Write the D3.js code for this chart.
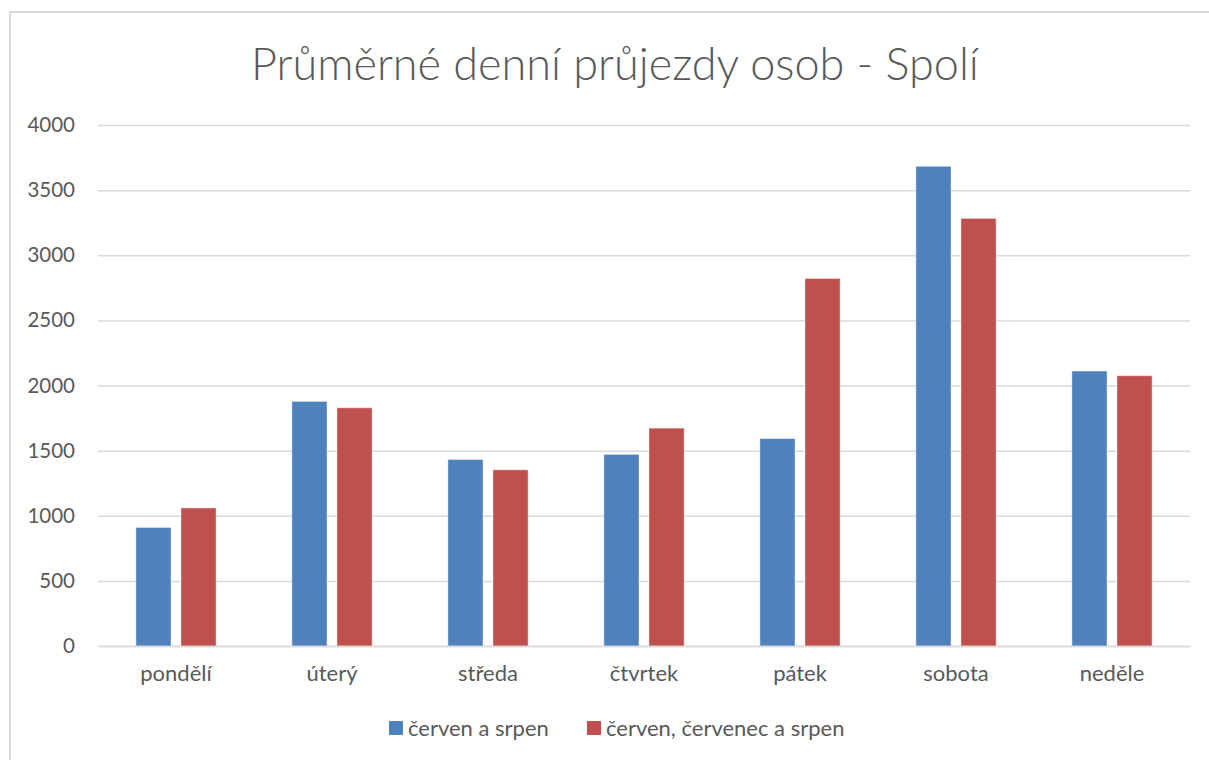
<!DOCTYPE html>
<html>
<head>
<meta charset="utf-8">
<script src="https://cdn.jsdelivr.net/npm/d3@7"></script>
<style>
  html, body { margin: 0; padding: 0; background: #fff; overflow: hidden; }
  svg { display: block; }
  text { font-family: Lato, "Open Sans", sans-serif; fill: #595959; }
</style>
</head>
<body>
<svg width="1209" height="760"></svg>
<script>
const days = ['pondělí', 'úterý', 'středa', 'čtvrtek', 'pátek', 'sobota', 'neděle'];
const seriesNames = ['červen a srpen', 'červen, červenec a srpen'];
const cervenSrpen = [910, 1878, 1432, 1471, 1593, 3683, 2111];
const cervenCervenecSrpen = [1060, 1829, 1353, 1673, 2822, 3283, 2075];
const yTicks = [0, 500, 1000, 1500, 2000, 2500, 3000, 3500, 4000];
const colors = ['#4F81BD', '#C0504D'];

const svg = d3.select('svg');
const width = +svg.attr('width');
const height = +svg.attr('height');

// ramecek grafu - jen horni a levy okraj jsou videt
svg.append('path')
  .attr('d', `M10,${height} V12 H${width}`)
  .attr('fill', 'none')
  .attr('stroke', '#d9d9d9')
  .attr('stroke-width', 2);

svg.append('text')
  .attr('x', 615).attr('y', 80)
  .attr('text-anchor', 'middle')
  .style('font-size', '45px')
  .style('font-weight', 300)
  .text('Průměrné denní průjezdy osob - Spolí');

const margin = {top: 125, right: 19, bottom: 114, left: 98};
const innerWidth = width - margin.left - margin.right;
const innerHeight = height - margin.top - margin.bottom;

const g = svg.append('g')
  .attr('transform', `translate(${margin.left},${margin.top})`);

const x0 = d3.scaleBand().domain(days).range([0, innerWidth]);
const x1 = d3.scaleBand().domain(seriesNames)
  .range([0, x0.bandwidth()])
  .paddingInner(0.22).paddingOuter(0.84);
const y = d3.scaleLinear().domain([0, 4000]).range([innerHeight, 0]);

// mrizka
g.append('g')
  .call(d3.axisLeft(y).tickValues(yTicks).tickSize(-innerWidth).tickFormat(''))
  .call(a => a.select('.domain').remove())
  .call(a => a.selectAll('text').remove())
  .call(a => a.selectAll('line').attr('stroke', '#d9d9d9').attr('stroke-width', 1.5));

// popisky osy y
g.append('g')
  .call(d3.axisLeft(y).tickValues(yTicks).tickSize(0).tickPadding(23).tickFormat(d3.format('d')))
  .call(a => a.select('.domain').remove())
  .call(a => a.selectAll('text').style('font-size', '20.5px').style('font-family', 'Lato, sans-serif').attr('fill', '#595959'));

const rows = days.map((d, i) => ({day: d, values: [cervenSrpen[i], cervenCervenecSrpen[i]]}));

const groups = g.selectAll('.day').data(rows)
  .enter().append('g')
    .attr('transform', d => `translate(${x0(d.day)},0)`);

groups.selectAll('rect')
  .data(d => d.values.map((v, k) => ({name: seriesNames[k], value: v, k})))
  .enter().append('rect')
    .attr('x', d => x1(d.name))
    .attr('y', d => y(d.value))
    .attr('width', x1.bandwidth())
    .attr('height', d => innerHeight - y(d.value))
    .attr('fill', d => colors[d.k])
    .attr('stroke', 'rgba(255,255,255,0.45)')
    .attr('stroke-width', 1);

// osa x
g.append('g')
  .attr('transform', `translate(0,${innerHeight})`)
  .call(d3.axisBottom(x0).tickSize(0).tickPadding(19))
  .call(a => a.select('.domain').attr('stroke', '#d9d9d9').attr('stroke-width', 1.5))
  .call(a => a.selectAll('text').style('font-size', '22px').style('font-family', 'Lato, sans-serif').attr('fill', '#595959'));

// legenda
const legendX = [389, 587];
const legend = svg.selectAll('.legend').data(seriesNames)
  .enter().append('g')
    .attr('transform', (d, i) => `translate(${legendX[i]},721)`);
legend.append('rect')
  .attr('width', 14).attr('height', 14)
  .attr('fill', (d, i) => colors[i]);
legend.append('text')
  .attr('x', 19).attr('y', 15)
  .style('font-size', '22px')
  .text(d => d);
</script>
</body>
</html>
